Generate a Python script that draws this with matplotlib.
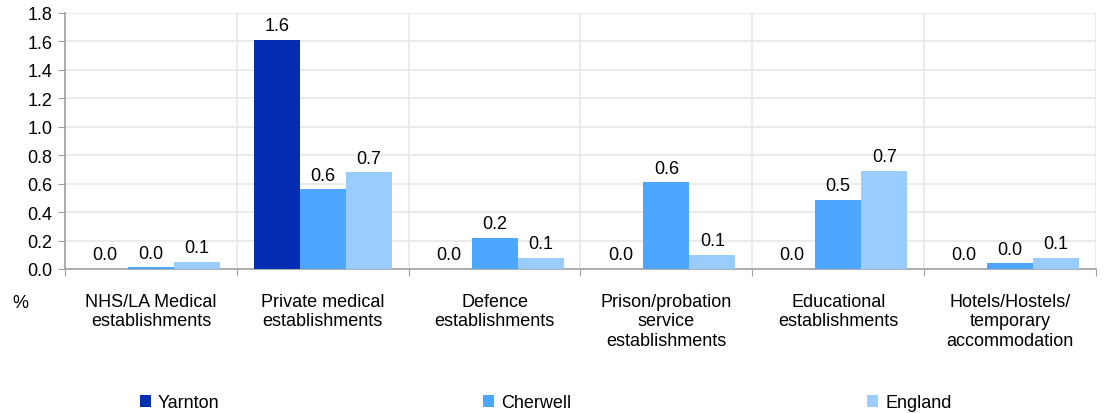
import matplotlib
matplotlib.use('Agg')
import matplotlib.pyplot as plt
import numpy as np

plt.rcParams['font.family'] = ['Liberation Sans', 'DejaVu Sans']

categories = ["NHS/LA Medical\nestablishments",
              "Private medical\nestablishments",
              "Defence\nestablishments",
              "Prison/probation\nservice\nestablishments",
              "Educational\nestablishments",
              "Hotels/Hostels/\ntemporary\naccommodation"]
series_names = ["Yarnton", "Cherwell", "England"]
yarnton = [0.0, 1.61, 0.0, 0.0, 0.0, 0.0]
cherwell = [0.012, 0.56, 0.22, 0.61, 0.485, 0.04]
england = [0.052, 0.68, 0.077, 0.1, 0.69, 0.077]
colours = ["#032EB3", "#4DA6FF", "#99CCFF"]

fig = plt.figure(figsize=(11.04, 4.14), dpi=100)
ax = fig.add_axes([65/1104, 1 - 270/414, (1096 - 65)/1104, 256/414])

x = np.arange(len(categories))
width = 0.268
all_series = [yarnton, cherwell, england]
handles = []
for i, (vals, name, col) in enumerate(zip(all_series, series_names, colours)):
  pos = x + (i - 1) * width
  b = ax.bar(pos, vals, width, color=col, label=name, zorder=3)
  handles.append(b)
  for p, v in zip(pos, vals):
    ax.text(p, v + 0.04, f"{v:.1f}", ha='center', va='bottom', fontsize=13, color='#000000', zorder=4)

ax.set_xlim(-0.5, len(categories) - 0.5)
ax.set_ylim(0, 1.8)
ax.set_yticks(np.arange(0, 1.81, 0.2))
ax.set_yticklabels([f"{t:.1f}" for t in np.arange(0, 1.81, 0.2)], fontsize=13)

# vertical separators between categories, labels in the middle
ax.set_xticks(np.arange(-0.5, len(categories), 1.0))
ax.set_xticklabels([])
ax.set_xticks(x, minor=True)
ax.set_xticklabels(categories, minor=True, fontsize=13, linespacing=1.22)
ax.tick_params(axis='x', which='minor', length=0, pad=17)
ax.tick_params(axis='x', which='major', length=5, color='#a0a0a0', direction='out')
ax.tick_params(axis='y', length=5, color='#a0a0a0', pad=4)

ax.grid(True, which='major', color='#e8e8e8', linewidth=1.2, zorder=0)
for s in ['top', 'right']:
  ax.spines[s].set_visible(False)
for s in ['left', 'bottom']:
  ax.spines[s].set_color('#a0a0a0')
  ax.spines[s].set_linewidth(1.2)

fig.text(20/1104, 1 - 303/414, "%", fontsize=13, ha='center', va='center')

leg_x = [140, 483, 867]
for h, name, lx in zip(handles, series_names, leg_x):
  fig.legend([h], [name], loc='center left', bbox_to_anchor=(lx/1104, 1 - 404/414),
             frameon=False, fontsize=13, handlelength=0.6, handleheight=0.6,
             handletextpad=0.4, borderpad=0, borderaxespad=0)

fig.savefig("out.png", dpi=100)
